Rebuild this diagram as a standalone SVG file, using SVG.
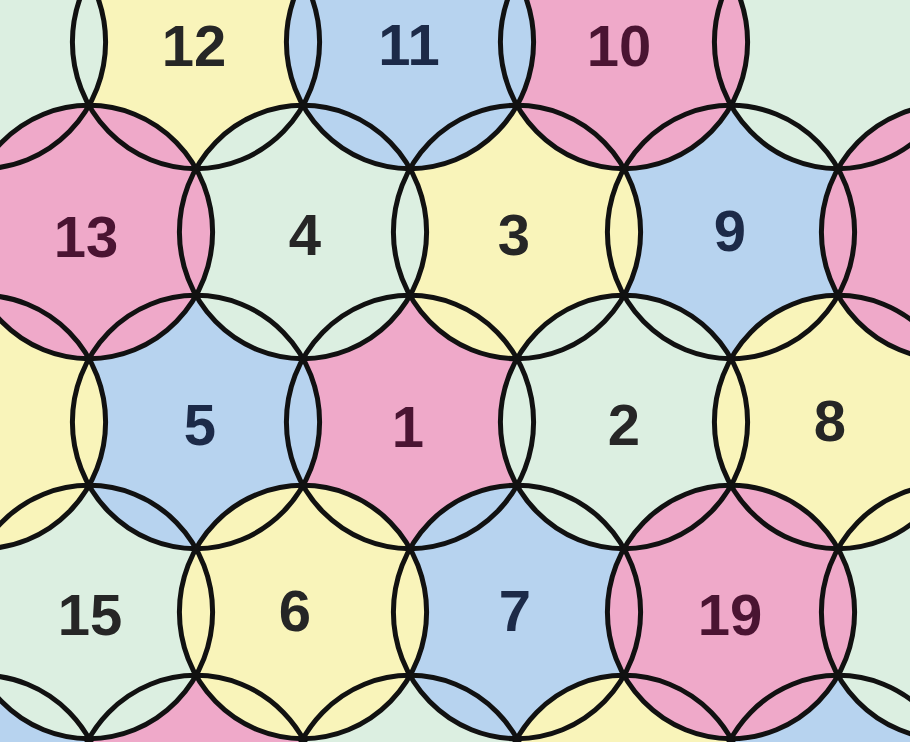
<svg xmlns="http://www.w3.org/2000/svg" width="910" height="742" viewBox="0 0 910 742">
<style>
.p{fill:#efa9c9}
.b{fill:#b7d3ef}
.y{fill:#f9f4ba}
.g{fill:#dcefe1}
.ring{fill:none;stroke:#111;stroke-width:5}
text{font-family:"Liberation Sans",Arial,sans-serif;font-weight:bold;font-size:58px;text-anchor:middle}
.tp{fill:#4a1432}
.tb{fill:#1c2a48}
.tn{fill:#262626}
</style>
<defs>
<ellipse id="c" cx="0" cy="0" rx="123.6" ry="126.7"/>
</defs>
<rect width="910" height="742" class="g"/>
<g id="cells">
<g id="n1"><use href="#c" x="410" y="422" class="p"/><text x="408" y="447" class="tp">1</text></g>
<g id="n9"><use href="#c" x="731" y="232" class="b"/><text x="730" y="251" class="tb">9</text></g>
<g id="n12"><use href="#c" x="196" y="42" class="y"/><text x="194" y="66" class="tn">12</text></g>
<g id="e0"><use href="#c" x="-18" y="802" class="b"/></g>
<g id="e1"><use href="#c" x="196" y="802" class="p"/></g>
<g id="e2"><use href="#c" x="410" y="802" class="g"/></g>
<g id="e4"><use href="#c" x="838" y="802" class="b"/></g>
<g id="n3"><use href="#c" x="517" y="232" class="y"/><text x="514" y="255" class="tn">3</text></g>
<g id="n7"><use href="#c" x="517" y="612" class="b"/><text x="515" y="631" class="tb">7</text></g>
<g id="e3"><use href="#c" x="624" y="802" class="y"/></g>
<g id="n15"><use href="#c" x="89" y="612" class="g"/><text x="90" y="635" class="tn">15</text></g>
<g id="n5"><use href="#c" x="196" y="422" class="b"/><text x="200" y="445" class="tb">5</text></g>
<g id="n6"><use href="#c" x="303" y="612" class="y"/><text x="295" y="631" class="tn">6</text></g>
<g id="n4"><use href="#c" x="303" y="232" class="g"/><text x="305" y="255" class="tn">4</text></g>
<g id="a4"><use href="#c" x="838" y="42" class="g"/></g>
<g id="n10"><use href="#c" x="624" y="42" class="p"/><text x="619" y="66" class="tp">10</text></g>
<g id="n11"><use href="#c" x="410" y="42" class="b"/><text x="409" y="65" class="tb">11</text></g>
<g id="a0"><use href="#c" x="-18" y="42" class="g"/></g>
<g id="c0"><use href="#c" x="-18" y="422" class="y"/></g>
<g id="n13"><use href="#c" x="89" y="232" class="p"/><text x="86" y="257" class="tp">13</text></g>
<g id="d4"><use href="#c" x="945" y="612" class="g"/></g>
<g id="n2"><use href="#c" x="624" y="422" class="g"/><text x="624" y="445" class="tn">2</text></g>
<g id="n8"><use href="#c" x="838" y="422" class="y"/><text x="830" y="441" class="tn">8</text></g>
<g id="n19"><use href="#c" x="731" y="612" class="p"/><text x="730" y="635" class="tp">19</text></g>
<g id="b4"><use href="#c" x="945" y="232" class="p"/></g>
</g>
<g id="outlines">
<use href="#c" x="-18" y="42" class="ring"/>
<use href="#c" x="196" y="42" class="ring"/>
<use href="#c" x="410" y="42" class="ring"/>
<use href="#c" x="624" y="42" class="ring"/>
<use href="#c" x="838" y="42" class="ring"/>
<use href="#c" x="89" y="232" class="ring"/>
<use href="#c" x="303" y="232" class="ring"/>
<use href="#c" x="517" y="232" class="ring"/>
<use href="#c" x="731" y="232" class="ring"/>
<use href="#c" x="945" y="232" class="ring"/>
<use href="#c" x="-18" y="422" class="ring"/>
<use href="#c" x="196" y="422" class="ring"/>
<use href="#c" x="410" y="422" class="ring"/>
<use href="#c" x="624" y="422" class="ring"/>
<use href="#c" x="838" y="422" class="ring"/>
<use href="#c" x="89" y="612" class="ring"/>
<use href="#c" x="303" y="612" class="ring"/>
<use href="#c" x="517" y="612" class="ring"/>
<use href="#c" x="731" y="612" class="ring"/>
<use href="#c" x="945" y="612" class="ring"/>
<use href="#c" x="-18" y="802" class="ring"/>
<use href="#c" x="196" y="802" class="ring"/>
<use href="#c" x="410" y="802" class="ring"/>
<use href="#c" x="624" y="802" class="ring"/>
<use href="#c" x="838" y="802" class="ring"/>
</g>
</svg>
